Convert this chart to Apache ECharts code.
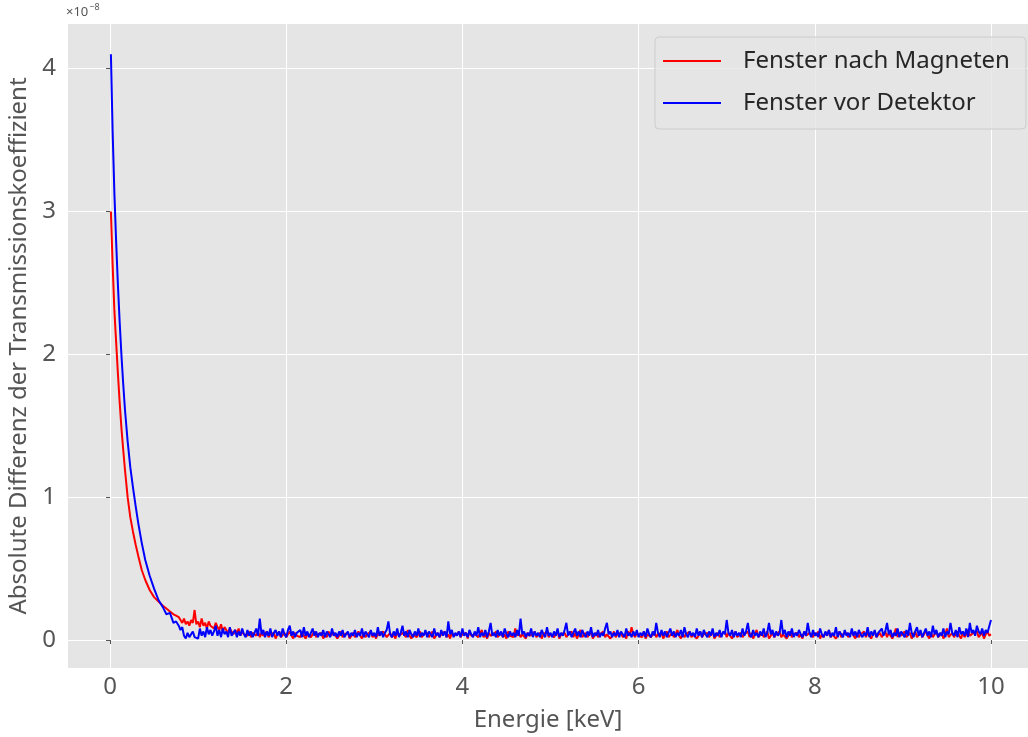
<!DOCTYPE html>
<html>
<head>
<meta charset="utf-8">
<script src="https://cdn.jsdelivr.net/npm/echarts@6/dist/echarts.min.js"></script>
<style>
  html, body { margin: 0; padding: 0; background: #ffffff; }
  #chart { width: 1028px; height: 737px; }
</style>
</head>
<body>
<div id="chart"></div>
<script>
// Absolute difference of the transmission coefficient (units of 1e-8) vs. energy in keV.

// Steep low-energy part, sampled at these energies (keV)
const headEnergy = [0.01, 0.03, 0.05, 0.07, 0.09, 0.11, 0.13, 0.15, 0.17, 0.20, 0.23, 0.26,
                    0.29, 0.32, 0.36, 0.40, 0.45, 0.50, 0.55, 0.60, 0.64, 0.68, 0.72, 0.75];
const headNachMagneten = [3.00, 2.62, 2.30, 2.08, 1.86, 1.66, 1.48, 1.33, 1.19, 1.00, 0.86, 0.76,
                          0.67, 0.59, 0.49, 0.42, 0.35, 0.30, 0.27, 0.24, 0.22, 0.20, 0.18, 0.17];
const headVorDetektor = [4.10, 3.55, 3.12, 2.78, 2.48, 2.22, 1.99, 1.79, 1.61, 1.39, 1.21, 1.07,
                         0.94, 0.82, 0.68, 0.56, 0.45, 0.36, 0.28, 0.23, 0.18, 0.19, 0.12, 0.13];

// Flat, noisy part: regular energy grid from 0.78 keV in steps of 0.02 keV (20 values per row = 0.4 keV)
const tailStart = 0.78;
const tailStep = 0.02;
const tailNachMagneten = [
  0.16,0.14,0.12,0.15,0.11,0.13,0.10,0.14,0.12,0.21,0.11,0.13,0.09,0.15,0.10,0.12,0.08,0.13,0.10,0.11,
  0.08,0.12,0.09,0.07,0.11,0.06,0.09,0.07,0.05,0.08,0.06,0.04,0.07,0.05,0.08,0.03,0.06,0.04,0.05,0.03,
  0.06,0.02,0.05,0.04,0.03,0.06,0.02,0.05,0.03,0.04,0.06,0.02,0.04,0.03,0.05,0.01,0.04,0.06,0.02,0.03,
  0.05,0.02,0.04,0.06,0.03,0.01,0.05,0.03,0.04,0.02,0.06,0.03,0.01,0.04,0.05,0.02,0.03,0.06,0.02,0.04,
  0.03,0.05,0.01,0.04,0.02,0.06,0.03,0.02,0.05,0.04,0.01,0.03,0.06,0.02,0.04,0.03,0.05,0.01,0.03,0.05,
  0.02,0.04,0.06,0.03,0.01,0.05,0.02,0.04,0.03,0.06,0.02,0.04,0.01,0.05,0.03,0.02,0.06,0.04,0.02,0.03,
  0.05,0.02,0.04,0.01,0.06,0.03,0.02,0.05,0.04,0.02,0.07,0.03,0.01,0.04,0.05,0.02,0.03,0.06,0.02,0.04,
  0.03,0.05,0.02,0.04,0.06,0.01,0.03,0.05,0.02,0.04,0.03,0.06,0.02,0.04,0.01,0.05,0.03,0.02,0.04,0.06,
  0.02,0.04,0.03,0.05,0.01,0.06,0.03,0.02,0.04,0.05,0.02,0.03,0.07,0.02,0.04,0.01,0.05,0.03,0.02,0.04,
  0.06,0.02,0.03,0.05,0.02,0.04,0.01,0.06,0.03,0.04,0.02,0.08,0.03,0.05,0.02,0.04,0.03,0.01,0.05,0.03,
  0.02,0.04,0.06,0.02,0.03,0.05,0.01,0.04,0.03,0.06,0.02,0.04,0.05,0.02,0.03,0.06,0.01,0.04,0.03,0.05,
  0.02,0.04,0.03,0.06,0.02,0.05,0.01,0.04,0.07,0.02,0.03,0.05,0.02,0.04,0.06,0.01,0.03,0.05,0.02,0.04,
  0.03,0.06,0.02,0.04,0.05,0.01,0.03,0.06,0.02,0.04,0.03,0.05,0.02,0.04,0.01,0.06,0.03,0.09,0.04,0.02,
  0.05,0.03,0.04,0.02,0.06,0.01,0.04,0.05,0.02,0.03,0.06,0.02,0.04,0.03,0.05,0.01,0.04,0.06,0.02,0.03,
  0.05,0.02,0.04,0.07,0.03,0.01,0.05,0.02,0.04,0.03,0.06,0.02,0.04,0.05,0.01,0.03,0.06,0.02,0.04,0.03,
  0.05,0.02,0.04,0.06,0.01,0.03,0.05,0.02,0.04,0.03,0.06,0.02,0.05,0.03,0.01,0.04,0.06,0.02,0.03,0.05,
  0.02,0.04,0.03,0.06,0.02,0.05,0.01,0.04,0.07,0.02,0.03,0.05,0.02,0.04,0.06,0.01,0.03,0.05,0.02,0.04,
  0.03,0.06,0.02,0.04,0.05,0.01,0.03,0.06,0.02,0.04,0.03,0.05,0.02,0.04,0.01,0.06,0.03,0.02,0.05,0.04,
  0.02,0.05,0.03,0.06,0.01,0.04,0.02,0.05,0.03,0.07,0.02,0.04,0.05,0.01,0.03,0.06,0.02,0.04,0.03,0.05,
  0.02,0.04,0.06,0.03,0.01,0.05,0.02,0.04,0.03,0.06,0.02,0.05,0.03,0.01,0.04,0.06,0.02,0.03,0.05,0.02,
  0.04,0.06,0.02,0.05,0.03,0.01,0.04,0.08,0.02,0.05,0.03,0.04,0.06,0.02,0.03,0.05,0.01,0.04,0.06,0.02,
  0.03,0.05,0.02,0.04,0.07,0.03,0.01,0.05,0.02,0.04,0.06,0.02,0.03,0.05,0.01,0.04,0.08,0.02,0.03,0.05,
  0.02,0.04,0.06,0.03,0.01,0.05,0.02,0.04,0.07,0.03,0.02,0.05,0.04,0.06,0.02,0.03,0.05,0.01,0.04,0.06,
  0.03,0.04
];
const tailVorDetektor = [
  0.10,0.07,0.09,0.03,0.01,0.05,0.02,0.01,0.06,0.02,0.03,0.01,0.08,0.03,0.06,0.02,0.09,0.04,0.07,0.03,
  0.06,0.10,0.03,0.07,0.02,0.08,0.04,0.06,0.02,0.09,0.03,0.05,0.07,0.02,0.06,0.03,0.08,0.04,0.02,0.07,
  0.03,0.06,0.02,0.05,0.08,0.03,0.15,0.04,0.07,0.02,0.06,0.03,0.08,0.02,0.05,0.07,0.03,0.06,0.02,0.08,
  0.04,0.02,0.07,0.10,0.03,0.06,0.02,0.05,0.04,0.07,0.02,0.09,0.03,0.06,0.02,0.05,0.08,0.03,0.06,0.02,
  0.05,0.03,0.07,0.02,0.06,0.04,0.02,0.08,0.03,0.05,0.02,0.06,0.03,0.07,0.02,0.04,0.06,0.02,0.05,0.03,
  0.07,0.02,0.05,0.03,0.08,0.02,0.06,0.04,0.02,0.07,0.03,0.05,0.02,0.09,0.03,0.06,0.02,0.05,0.07,0.13,
  0.04,0.02,0.06,0.03,0.08,0.02,0.05,0.10,0.03,0.06,0.02,0.07,0.04,0.02,0.06,0.03,0.08,0.02,0.05,0.03,
  0.07,0.02,0.06,0.04,0.02,0.08,0.03,0.05,0.02,0.07,0.03,0.06,0.02,0.13,0.04,0.07,0.02,0.05,0.03,0.06,
  0.02,0.08,0.03,0.05,0.02,0.07,0.04,0.02,0.06,0.03,0.09,0.02,0.05,0.03,0.07,0.02,0.06,0.12,0.03,0.05,
  0.02,0.07,0.03,0.06,0.02,0.08,0.04,0.02,0.06,0.03,0.05,0.02,0.07,0.03,0.15,0.04,0.06,0.02,0.05,0.03,
  0.08,0.02,0.06,0.03,0.05,0.02,0.07,0.04,0.02,0.09,0.03,0.05,0.02,0.06,0.03,0.08,0.02,0.05,0.03,0.07,
  0.12,0.03,0.06,0.02,0.05,0.08,0.03,0.06,0.02,0.07,0.04,0.02,0.06,0.03,0.09,0.02,0.05,0.03,0.07,0.02,
  0.05,0.03,0.08,0.12,0.04,0.06,0.02,0.05,0.03,0.07,0.02,0.06,0.04,0.02,0.08,0.03,0.05,0.02,0.06,0.03,
  0.07,0.02,0.05,0.03,0.06,0.02,0.08,0.04,0.02,0.06,0.03,0.12,0.05,0.02,0.07,0.03,0.06,0.02,0.05,0.08,
  0.03,0.06,0.02,0.05,0.03,0.07,0.02,0.09,0.04,0.02,0.06,0.03,0.05,0.02,0.08,0.03,0.06,0.02,0.07,0.04,
  0.02,0.06,0.03,0.08,0.02,0.05,0.03,0.07,0.02,0.06,0.04,0.14,0.05,0.03,0.07,0.02,0.06,0.03,0.05,0.02,
  0.08,0.03,0.06,0.12,0.04,0.02,0.07,0.03,0.05,0.02,0.06,0.03,0.08,0.02,0.05,0.12,0.04,0.07,0.02,0.06,
  0.03,0.05,0.14,0.04,0.07,0.02,0.06,0.03,0.08,0.02,0.05,0.03,0.07,0.04,0.02,0.06,0.03,0.12,0.05,0.02,
  0.07,0.03,0.05,0.02,0.08,0.04,0.02,0.06,0.03,0.07,0.02,0.05,0.03,0.09,0.02,0.06,0.04,0.02,0.07,0.03,
  0.05,0.02,0.08,0.03,0.06,0.02,0.07,0.04,0.02,0.05,0.03,0.09,0.02,0.06,0.03,0.07,0.02,0.05,0.04,0.08,
  0.03,0.06,0.12,0.04,0.07,0.02,0.05,0.03,0.08,0.02,0.06,0.04,0.02,0.07,0.03,0.12,0.05,0.02,0.06,0.09,
  0.03,0.07,0.02,0.05,0.08,0.03,0.06,0.02,0.10,0.04,0.07,0.02,0.05,0.03,0.08,0.02,0.06,0.04,0.12,0.05,
  0.03,0.07,0.02,0.09,0.04,0.06,0.03,0.08,0.02,0.12,0.05,0.07,0.03,0.10,0.06,0.04,0.08,0.03,0.07,0.05,
  0.06,0.14
];

const xTicks = [0, 2, 4, 6, 8, 10];
const yTicks = [0, 1, 2, 3, 4];
const seriesNames = ['Fenster nach Magneten', 'Fenster vor Detektor'];

function buildPairs(head, tail) {
  const pts = headEnergy.map((e, i) => [e, head[i]]);
  tail.forEach((v, k) => pts.push([+(tailStart + k * tailStep).toFixed(2), v]));
  return pts;
}

const FONT = '"Noto Sans", "DejaVu Sans", sans-serif';
const GREY = '#555555';

const chart = echarts.init(document.getElementById('chart'), null, { renderer: 'canvas' });
chart.setOption({
  animation: false,
  backgroundColor: '#ffffff',
  grid: {
    left: 68, top: 24, right: 0, bottom: 69,
    outerBoundsMode: 'none', containLabel: false,
    show: true, backgroundColor: '#e5e5e5', borderWidth: 0
  },
  xAxis: {
    type: 'value', min: -0.477, max: 10.42,
    axisLine: { show: false },
    axisTick: { show: true, customValues: xTicks, length: 4, lineStyle: { color: GREY, width: 1 } },
    axisLabel: { customValues: xTicks, color: GREY, fontSize: 24, fontFamily: FONT, margin: 7 },
    splitLine: { show: true, lineStyle: { color: '#ffffff', width: 1 } },
    name: 'Energie [keV]', nameLocation: 'middle', nameGap: 40,
    nameTextStyle: { color: GREY, fontSize: 24, fontFamily: FONT }
  },
  yAxis: {
    type: 'value', min: -0.196, max: 4.312,
    axisLine: { show: false },
    axisTick: { show: true, customValues: yTicks, length: 4, lineStyle: { color: GREY, width: 1 } },
    axisLabel: { customValues: yTicks, color: GREY, fontSize: 24, fontFamily: FONT, margin: 12 },
    splitLine: { show: true, lineStyle: { color: '#ffffff', width: 1 } },
    name: 'Absolute Differenz der Transmissionskoeffizient', nameLocation: 'middle', nameGap: 32,
    nameTextStyle: { color: GREY, fontSize: 24, fontFamily: FONT }
  },
  legend: {
    orient: 'vertical', left: 655, top: 37,
    data: seriesNames.map(n => ({ name: n, icon: 'rect' })),
    itemWidth: 58, itemHeight: 2, itemGap: 18,
    padding: [12, 16, 14, 8],
    backgroundColor: 'rgba(229,229,229,0.8)',
    borderColor: '#cccccc', borderWidth: 1, borderRadius: 4,
    textStyle: { color: '#262626', fontSize: 24, fontFamily: FONT, padding: [0, 0, 0, 17], lineHeight: 24 }
  },
  graphic: [{
    type: 'text', left: 66, top: 3,
    style: {
      text: '{a|×10}{b|−8}',
      rich: {
        a: { fontSize: 13, fill: GREY, fontFamily: FONT, verticalAlign: 'bottom' },
        b: { fontSize: 9, fill: GREY, fontFamily: FONT, verticalAlign: 'top', padding: [0, 0, 7, 1] }
      }
    }
  }],
  series: [
    {
      name: seriesNames[0], type: 'line', showSymbol: false, symbol: 'none',
      data: buildPairs(headNachMagneten, tailNachMagneten),
      lineStyle: { color: '#ff0000', width: 2 }, itemStyle: { color: '#ff0000' }
    },
    {
      name: seriesNames[1], type: 'line', showSymbol: false, symbol: 'none',
      data: buildPairs(headVorDetektor, tailVorDetektor),
      lineStyle: { color: '#0000ff', width: 2 }, itemStyle: { color: '#0000ff' }
    }
  ]
});
</script>
</body>
</html>
